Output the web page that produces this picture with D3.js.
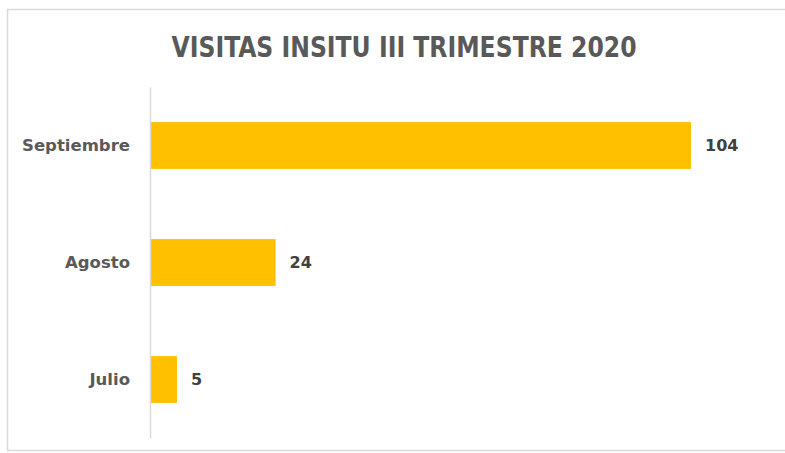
<!DOCTYPE html>
<html>
<head>
<meta charset="utf-8">
<script src="https://cdn.jsdelivr.net/npm/d3@7"></script>
<style>
  body { margin: 0; background: #fff; }
  svg { display: block; }
</style>
</head>
<body>
<svg id="chart" width="785" height="453"></svg>
<script>
'use strict';
// data
const months = ['Septiembre', 'Agosto', 'Julio'];
const visits = [104, 24, 5];
const title = 'VISITAS INSITU III TRIMESTRE 2020';

const svg = d3.select('#chart');
const data = months.map((m, i) => ({ month: m, value: visits[i] }));

// outer frame of the chart area
svg.append('rect')
  .attr('x', 7.5).attr('y', 9.5)
  .attr('width', 800).attr('height', 441)
  .attr('fill', 'none')
  .attr('stroke', '#d9d9d9')
  .attr('stroke-width', 1.5);

const xScale = d3.scaleLinear()
  .domain([0, d3.max(visits)])
  .range([151, 691]);
const yScale = d3.scaleBand()
  .domain(months)
  .range([87, 438])
  .paddingInner(0.6)
  .paddingOuter(0.3);

svg.append('text')
  .attr('x', 404).attr('y', 57)
  .attr('text-anchor', 'middle')
  .attr('font-family', 'DejaVu Sans Condensed, DejaVu Sans')
  .attr('font-weight', 'bold')
  .attr('font-size', 29)
  .attr('fill', '#595959')
  .attr('textLength', 465)
  .attr('lengthAdjust', 'spacingAndGlyphs')
  .text(title);

svg.append('g')
  .selectAll('rect')
  .data(data)
  .enter().append('rect')
    .attr('x', xScale(0))
    .attr('y', d => yScale(d.month))
    .attr('width', d => xScale(d.value) - xScale(0))
    .attr('height', yScale.bandwidth())
    .attr('fill', '#ffc000');

// category axis
const axis = svg.append('g')
  .attr('transform', `translate(${xScale(0) - 1},0)`)
  .call(d3.axisLeft(yScale).tickSize(0).tickPadding(20));
axis.select('.domain').attr('stroke', '#d9d9d9').attr('stroke-width', 1.5);
axis.selectAll('text')
  .attr('font-family', 'DejaVu Sans')
  .attr('font-weight', 'bold')
  .attr('font-size', 16.5)
  .attr('fill', '#595959');

// value labels
svg.append('g')
  .selectAll('text')
  .data(data)
  .enter().append('text')
    .attr('x', d => xScale(d.value) + 14)
    .attr('y', d => yScale(d.month) + yScale.bandwidth() / 2)
    .attr('dy', '0.35em')
    .attr('font-family', 'DejaVu Sans')
    .attr('font-weight', 'bold')
    .attr('font-size', 16)
    .attr('fill', '#404040')
    .text(d => d.value);
</script>
</body>
</html>
